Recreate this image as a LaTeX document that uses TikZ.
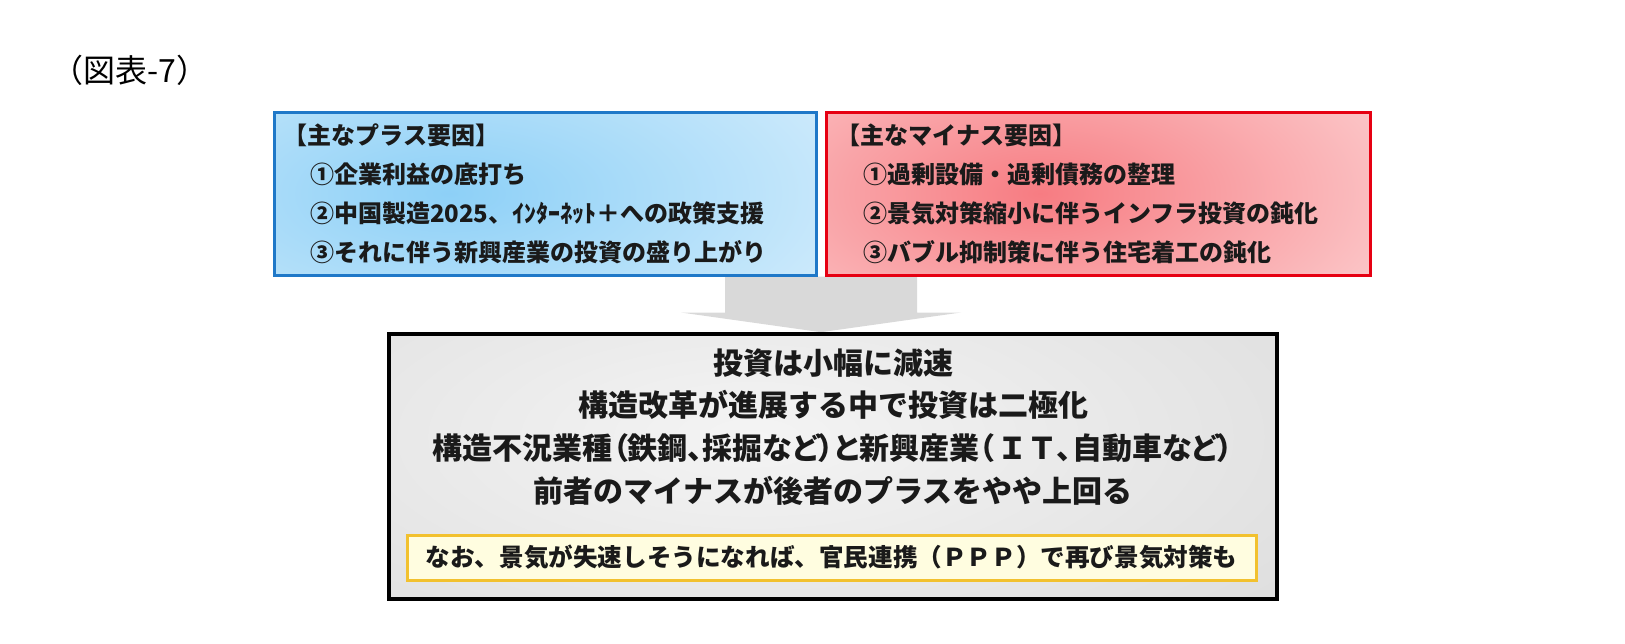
\documentclass[tikz,border=0pt]{standalone}
\usepackage{fontspec}
\usetikzlibrary{calc,positioning,backgrounds}
\newfontfamily\jpgothic{Noto Sans CJK JP}
\newfontfamily\jpgothicpalt{Noto Sans CJK JP}[RawFeature=+palt]
\definecolor{PlusBlue}{HTML}{1F78C8}
\definecolor{PlusCore}{HTML}{8DD0F7}
\definecolor{PlusEdge}{HTML}{E8F5FD}
\definecolor{MinusRed}{HTML}{E60012}
\definecolor{MinusCore}{HTML}{F77C82}
\definecolor{MinusEdge}{HTML}{FDE6E6}
\definecolor{ResultCore}{HTML}{F4F4F4}
\definecolor{ResultEdge}{HTML}{D5D5D5}
\definecolor{NoteGold}{HTML}{F2C12E}
\definecolor{NoteFill}{HTML}{FFFDE0}
\definecolor{ArrowGray}{HTML}{D9D9D9}
\definecolor{InkDark}{HTML}{1A1A1A}

\tikzset{
  factorbox/.style={
    line width=1.5pt,
    minimum height=81.5pt,
    text width=259pt,
    inner xsep=6pt,
    inner ysep=0pt,
    align=left,
    text=InkDark,
    font=\jpgothic\bfseries\fontsize{12}{19.5}\selectfont
  },
  resultline/.style={
    align=center,
    inner sep=0pt,
    text=InkDark,
    font=\jpgothic\bfseries\fontsize{15}{21.4}\selectfont
  }
}

\begin{document}
\begin{tikzpicture}[x=0.5pt,y=-0.5pt]
  \useasboundingbox (0,0) rectangle (1625,643);

  % title
  \node (title) [inner sep=0pt, font=\jpgothic\fontsize{16}{16}\selectfont] at (130,70) {（図表-7）};

  % factors
  \node (plus) [
    factorbox,
    draw=PlusBlue,
    fill=PlusEdge,
    minimum width=271pt,
    path picture={\shade[inner color=PlusCore, outer color=PlusEdge]
      ([xshift=-48pt]path picture bounding box.center) ellipse (300pt and 130pt);}
  ] at (545,193.5) {\hspace*{-0.1em}【主なプラス要因】\\
    \hspace*{1em}①企業利益の底打ち\\
    \hspace*{1em}②中国製造2025、ｲﾝﾀｰﾈｯﾄ＋への政策支援\\
    \hspace*{1em}③それに伴う新興産業の投資の盛り上がり};

  \node (minus) [
    factorbox,
    draw=MinusRed,
    fill=MinusEdge,
    minimum width=272pt,
    path picture={\shade[inner color=MinusCore, outer color=MinusEdge]
      ([xshift=-29pt]path picture bounding box.center) ellipse (270pt and 130pt);}
  ] at (1098,193.5) {\hspace*{-0.1em}【主なマイナス要因】\\
    \hspace*{1em}①過剰設備・過剰債務の整理\\
    \hspace*{1em}②景気対策縮小に伴うインフラ投資の鈍化\\
    \hspace*{1em}③バブル抑制策に伴う住宅着工の鈍化};

  % outcome
  \node (result) [
    draw=black,
    line width=1.8pt,
    fill=ResultEdge,
    minimum width=444pt,
    minimum height=132.5pt,
    path picture={\shade[inner color=ResultCore, outer color=ResultEdge]
      ([xshift=-40pt,yshift=15pt]path picture bounding box.center) ellipse (480pt and 190pt);}
  ] at (833,466.5) {};

  \node (resulttext) [resultline] at (833,427) {投資は小幅に減速\\
    構造改革が進展する中で投資は二極化\\
    {\jpgothicpalt 構造不況業種（鉄鋼、採掘など）と新興産業（\hspace{0.1em}{\jpgothic ＩＴ}、自動車など）}\\
    前者のマイナスが後者のプラスをやや上回る};

  \node (note) [
    draw=NoteGold,
    line width=1.5pt,
    fill=NoteFill,
    minimum width=424.5pt,
    minimum height=22.5pt,
    inner sep=0pt,
    text=InkDark,
    font=\jpgothic\bfseries\fontsize{12.3}{12.3}\selectfont
  ] at (831.5,557.5) {なお、景気が失速しそうになれば、官民連携（ＰＰＰ）で再び景気対策も};

  % flow arrow
  \coordinate (shafttop) at ($(plus.south east)!0.5!(minus.south west)$);
  \begin{scope}[on background layer]
    \fill[ArrowGray] ($(shafttop)+(-96,0)$) -- ($(shafttop)+(96,0)$)
      -- ($(shafttop)+(96,36)$) -- ($(shafttop)+(140,36)$)
      -- (result.north -| shafttop)
      -- ($(shafttop)+(-140,36)$) -- ($(shafttop)+(-96,36)$) -- cycle;
  \end{scope}
\end{tikzpicture}
\end{document}
